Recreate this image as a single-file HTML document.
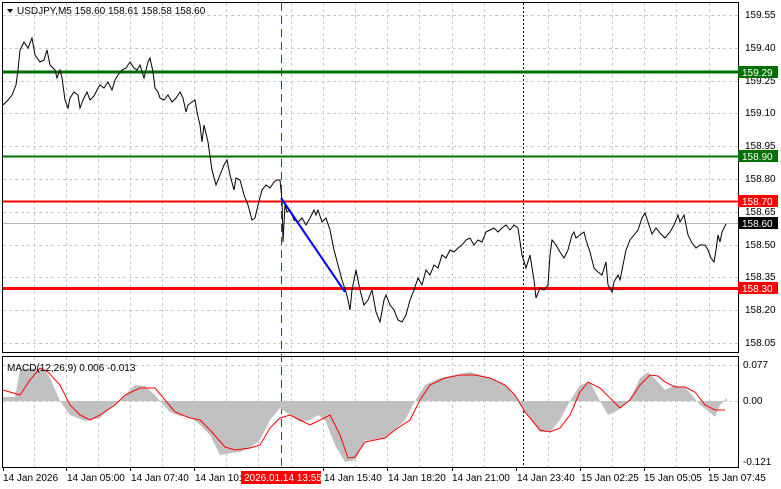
<!DOCTYPE html>
<html><head><meta charset="utf-8"><style>
body{margin:0;background:#fff}
svg{display:block;font-family:"Liberation Sans",sans-serif;font-size:10px}
</style></head><body>
<svg width="781" height="489" viewBox="0 0 781 489" xmlns="http://www.w3.org/2000/svg">
<rect width="781" height="489" fill="#fff"/>
<g stroke="#c8c8c8" stroke-dasharray="3,3" stroke-width="1">
<line x1="3" y1="15.5" x2="738" y2="15.5"/><line x1="3" y1="48.5" x2="738" y2="48.5"/><line x1="3" y1="81.5" x2="738" y2="81.5"/><line x1="3" y1="113.5" x2="738" y2="113.5"/><line x1="3" y1="146.5" x2="738" y2="146.5"/><line x1="3" y1="179.5" x2="738" y2="179.5"/><line x1="3" y1="212.5" x2="738" y2="212.5"/><line x1="3" y1="245.5" x2="738" y2="245.5"/><line x1="3" y1="277.5" x2="738" y2="277.5"/><line x1="3" y1="310.5" x2="738" y2="310.5"/><line x1="3" y1="343.5" x2="738" y2="343.5"/>
<line x1="3" y1="365.5" x2="738" y2="365.5"/><line x1="3" y1="401.5" x2="738" y2="401.5"/>
</g>
<g stroke="#c8c8c8" stroke-dasharray="3,3">
<line x1="34.5" y1="3" x2="34.5" y2="467"/><line x1="66.5" y1="3" x2="66.5" y2="467"/><line x1="98.5" y1="3" x2="98.5" y2="467"/><line x1="130.5" y1="3" x2="130.5" y2="467"/><line x1="162.5" y1="3" x2="162.5" y2="467"/><line x1="194.5" y1="3" x2="194.5" y2="467"/><line x1="226.5" y1="3" x2="226.5" y2="467"/><line x1="258.5" y1="3" x2="258.5" y2="467"/><line x1="291.5" y1="3" x2="291.5" y2="467"/><line x1="323.5" y1="3" x2="323.5" y2="467"/><line x1="355.5" y1="3" x2="355.5" y2="467"/><line x1="387.5" y1="3" x2="387.5" y2="467"/><line x1="419.5" y1="3" x2="419.5" y2="467"/><line x1="452.5" y1="3" x2="452.5" y2="467"/><line x1="484.5" y1="3" x2="484.5" y2="467"/><line x1="548.5" y1="3" x2="548.5" y2="467"/><line x1="580.5" y1="3" x2="580.5" y2="467"/><line x1="612.5" y1="3" x2="612.5" y2="467"/><line x1="644.5" y1="3" x2="644.5" y2="467"/><line x1="676.5" y1="3" x2="676.5" y2="467"/><line x1="709.5" y1="3" x2="709.5" y2="467"/>
</g>
<line x1="3" y1="223.5" x2="738" y2="223.5" stroke="#b4b4b4"/>
<line x1="523.5" y1="3" x2="523.5" y2="467" stroke="#000" stroke-dasharray="2,2"/>
<line x1="281.5" y1="3" x2="281.5" y2="467" stroke="#d00" stroke-dasharray="8,5"/>
<line x1="3" y1="72" x2="738" y2="72" stroke="#007000" stroke-width="3"/>
<line x1="3" y1="156.5" x2="738" y2="156.5" stroke="#007000" stroke-width="2"/>
<line x1="3" y1="201.5" x2="738" y2="201.5" stroke="#ff0000" stroke-width="2"/>
<line x1="3" y1="288.5" x2="738" y2="288.5" stroke="#ff0000" stroke-width="3"/>
<polyline fill="none" stroke="#000" stroke-width="1" points="3,105 8,100 12,95 16,85 18,70 20,50 24,42 28,48 32,38 35,55 40,62 44,60 47,50 50,65 55,70 57,78 60,70 62,78 65,100 68,108 70,98 74,92 78,95 80,108 83,100 87,92 90,100 94,96 98,88 100,85 104,88 108,82 112,90 115,80 118,75 122,70 126,68 130,62 134,68 137,70 140,65 144,78 148,62 150,58 153,72 155,88 158,92 160,98 164,100 168,95 172,102 176,98 180,92 183,98 186,112 188,105 192,102 195,100 197,112 200,125 202,142 204,125 208,142 212,170 216,185 220,175 224,165 227,160 230,175 234,190 236,178 240,180 244,195 248,205 252,220 255,218 258,205 262,190 266,185 270,188 274,182 277,180 280,180 282,200 283,242 285,205 287,212 290,210 294,220 298,222 302,218 306,225 310,218 314,210 316,215 318,210 322,222 326,218 330,230 334,250 338,265 342,280 346,292 348,300 350,310 352,290 356,270 360,290 364,305 368,300 372,290 376,312 380,322 384,300 386,295 390,305 394,310 398,320 402,322 406,315 410,300 414,290 418,278 422,285 426,270 430,275 434,265 438,268 442,255 446,258 450,250 454,252 458,248 462,245 466,240 470,238 474,245 478,240 482,242 486,232 490,230 494,228 498,232 502,228 506,225 510,230 514,225 518,228 522,255 526,268 530,255 534,280 536,298 540,288 544,290 548,285 550,255 552,240 556,245 560,252 564,258 568,250 572,235 574,232 576,238 580,235 584,232 586,240 590,252 594,268 598,272 602,275 606,262 608,285 612,292 614,282 618,275 620,280 622,270 626,250 630,240 634,235 638,230 642,218 645,213 648,222 652,234 656,228 660,233 665,238 670,232 674,225 678,215 680,222 684,215 688,235 692,243 696,248 700,245 705,245 708,250 711,258 714,262 716,250 718,235 720,242 722,232 726,224"/>
<line x1="281" y1="198" x2="345" y2="292" stroke="#0000ff" stroke-width="2"/>
<polygon fill="#c0c0c0" points="3,401 3,397 15,397 20,370 30,368 45,370 50,378 60,401 70,415 85,421 100,418 110,408 120,401 125,395 135,385 145,386 155,395 160,401 170,412 180,416 190,417 200,425 210,435 220,455 230,453 240,452 250,448 260,440 270,420 280,408 290,415 300,422 310,420 318,415 325,420 335,445 345,462 355,460 365,440 375,440 385,438 395,430 405,420 415,401 425,385 440,378 455,375 470,372 490,378 505,385 515,395 520,405 530,418 540,432 550,432 560,420 570,401 580,385 590,382 600,401 608,415 615,412 625,405 632,395 640,378 648,372 656,380 665,390 675,385 685,388 692,395 700,405 710,412 715,417 720,405 727,398 727,401"/>
<polyline fill="none" stroke="#ff0000" stroke-width="1" points="3,390 20,395 30,380 40,368 48,372 60,385 70,405 80,415 90,420 100,415 115,405 125,395 140,388 155,388 165,400 175,412 190,418 200,420 210,430 225,447 235,450 250,448 260,445 270,428 280,418 290,415 300,420 310,425 320,420 330,415 340,435 348,458 355,457 365,442 375,440 385,438 395,430 410,420 420,400 430,385 445,378 460,375 475,375 490,378 505,385 515,395 525,412 540,430 550,432 560,428 570,415 580,392 588,382 600,388 612,400 620,408 630,400 640,385 650,375 658,376 665,382 675,387 685,387 695,392 705,405 715,410 725,410"/>
<rect x="2.5" y="2.5" width="736" height="350" fill="none" stroke="#000"/>
<rect x="2.5" y="356.5" width="736" height="111" fill="none" stroke="#000"/>
<polygon points="7,9 13,9 10,13" fill="#000"/>
<text x="17" y="14" fill="#000">USDJPY,M5  158.60 158.61 158.58 158.60</text>
<text x="7" y="371" fill="#000">MACD(12,26,9) 0.006 -0.013</text>
<g fill="#000">
<text x="745" y="18">159.55</text><text x="745" y="51">159.40</text><text x="745" y="84">159.25</text><text x="745" y="116">159.10</text><text x="745" y="149">158.95</text><text x="745" y="182">158.80</text><text x="745" y="215">158.65</text><text x="745" y="248">158.50</text><text x="745" y="280">158.35</text><text x="745" y="313">158.20</text><text x="745" y="346">158.05</text>
<text x="743" y="368">0.077</text><text x="743" y="404">0.00</text><text x="743" y="465">-0.121</text>
</g>
<rect x="738" y="66" width="40" height="12" fill="#007000"/><text x="742" y="76" fill="#fff">159.29</text>
<rect x="738" y="150" width="40" height="12" fill="#007000"/><text x="742" y="160" fill="#fff">158.90</text>
<rect x="738" y="195" width="40" height="12" fill="#ff0000"/><text x="742" y="205" fill="#fff">158.70</text>
<rect x="738" y="217" width="40" height="12" fill="#000"/><text x="742" y="227" fill="#fff">158.60</text>
<rect x="738" y="282" width="40" height="12" fill="#ff0000"/><text x="742" y="292" fill="#fff">158.30</text>
<g stroke="#000"><line x1="3.5" y1="467" x2="3.5" y2="471"/><line x1="66.5" y1="467" x2="66.5" y2="471"/><line x1="130.5" y1="467" x2="130.5" y2="471"/><line x1="194.5" y1="467" x2="194.5" y2="471"/><line x1="323.5" y1="467" x2="323.5" y2="471"/><line x1="387.5" y1="467" x2="387.5" y2="471"/><line x1="452.5" y1="467" x2="452.5" y2="471"/><line x1="516.5" y1="467" x2="516.5" y2="471"/><line x1="580.5" y1="467" x2="580.5" y2="471"/><line x1="644.5" y1="467" x2="644.5" y2="471"/><line x1="709.5" y1="467" x2="709.5" y2="471"/></g>
<g fill="#000">
<text x="3" y="481">14 Jan 2026</text><text x="67" y="481">14 Jan 05:00</text><text x="131" y="481">14 Jan 07:40</text><text x="195" y="481">14 Jan 10:20</text><text x="324" y="481">14 Jan 15:40</text><text x="388" y="481">14 Jan 18:20</text><text x="452" y="481">14 Jan 21:00</text><text x="517" y="481">14 Jan 23:40</text><text x="581" y="481">15 Jan 02:25</text><text x="644" y="481">15 Jan 05:05</text><text x="708" y="481">15 Jan 07:45</text>
</g>
<rect x="241" y="471" width="80" height="13" fill="#ff0000"/>
<text x="244" y="481" fill="#fff">2026.01.14 13:55</text>
</svg>
</body></html>
